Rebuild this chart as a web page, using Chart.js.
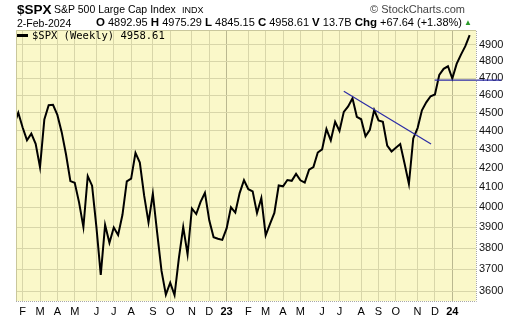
<!DOCTYPE html>
<html><head><meta charset="utf-8">
<script src="https://cdn.jsdelivr.net/npm/chart.js@4.4.1/dist/chart.umd.min.js"></script>
<style>
html,body{margin:0;padding:0;background:#fff;}
#wrap{position:relative;width:520px;height:318px;overflow:hidden;font-family:"Liberation Sans",Arial,sans-serif;}
#c{position:absolute;left:0;top:0;}
.t{position:absolute;white-space:nowrap;color:#000;line-height:1;}
#row2{position:absolute;left:96px;width:366px;top:17px;display:flex;justify-content:space-between;align-items:baseline;white-space:nowrap;line-height:1;font-size:11px;}
#row2 b{font-size:11.5px;margin-right:3px;}
</style></head><body>
<div id="wrap">
<canvas id="c" width="520" height="318"></canvas>
<div class="t" style="left:17px;top:2.5px;font-size:13.5px;font-weight:bold;">$SPX</div>
<div class="t" style="left:54px;top:4px;font-size:10.5px;">S&amp;P 500 Large Cap Index</div>
<div class="t" style="left:182px;top:5.5px;font-size:9px;">INDX</div>
<div class="t" style="right:55px;top:4px;font-size:11px;color:#444;">&copy; StockCharts.com</div>
<div class="t" style="left:17px;top:18px;font-size:10.5px;">2-Feb-2024</div>
<div id="row2">
<span><b>O</b>4892.95</span>
<span><b>H</b>4975.29</span>
<span><b>L</b>4845.15</span>
<span><b>C</b>4958.61</span>
<span><b>V</b>13.7B</span>
<span><b>Chg</b>+67.64 (+1.38%)</span>
</div>
<div class="t" style="left:464px;top:19px;font-size:8px;color:#2a9a2a;">&#9650;</div>
<div style="position:absolute;left:17px;top:34px;width:11px;height:3px;background:#000;"></div>
<div class="t" style="left:32px;top:30px;font-size:10.5px;font-family:'DejaVu Sans Mono',monospace;">$SPX (Weekly) 4958.61</div>
</div>
<script>
const weeks = [
"2022-01-28","2022-02-04","2022-02-11","2022-02-18","2022-02-25","2022-03-04","2022-03-11","2022-03-18","2022-03-25",
"2022-04-01","2022-04-08","2022-04-14","2022-04-22","2022-04-29","2022-05-06","2022-05-13","2022-05-20","2022-05-27",
"2022-06-03","2022-06-10","2022-06-17","2022-06-24","2022-07-01","2022-07-08","2022-07-15","2022-07-22","2022-07-29",
"2022-08-05","2022-08-12","2022-08-19","2022-08-26","2022-09-02","2022-09-09","2022-09-16","2022-09-23","2022-09-30",
"2022-10-07","2022-10-14","2022-10-21","2022-10-28","2022-11-04","2022-11-11","2022-11-18","2022-11-25",
"2022-12-02","2022-12-09","2022-12-16","2022-12-23","2022-12-30",
"2023-01-06","2023-01-13","2023-01-20","2023-01-27","2023-02-03","2023-02-10","2023-02-17","2023-02-24",
"2023-03-03","2023-03-10","2023-03-17","2023-03-24","2023-03-31","2023-04-06","2023-04-14","2023-04-21","2023-04-28",
"2023-05-05","2023-05-12","2023-05-19","2023-05-26","2023-06-02","2023-06-09","2023-06-16","2023-06-23","2023-06-30",
"2023-07-07","2023-07-14","2023-07-21","2023-07-28","2023-08-04","2023-08-11","2023-08-18","2023-08-25",
"2023-09-01","2023-09-08","2023-09-15","2023-09-22","2023-09-29","2023-10-06","2023-10-13","2023-10-20","2023-10-27",
"2023-11-03","2023-11-10","2023-11-17","2023-11-24","2023-12-01","2023-12-08","2023-12-15","2023-12-22","2023-12-29",
"2024-01-05","2024-01-12","2024-01-19","2024-01-26","2024-02-02"];
const spxClose = [
4431.85,4500.53,4418.64,4348.87,4384.65,4328.87,4204.31,4463.12,4543.06,
4545.86,4488.28,4392.59,4271.78,4131.93,4123.34,4023.89,3901.36,4158.24,
4108.54,3900.86,3674.84,3911.74,3825.33,3899.38,3863.16,3961.63,4130.29,
4145.19,4280.15,4228.48,4057.66,3924.26,4067.36,3873.33,3693.23,3585.62,
3639.66,3583.07,3752.75,3901.06,3770.55,3992.93,3965.34,4026.12,
4071.70,3934.38,3852.36,3844.82,3839.50,
3895.08,3999.09,3972.61,4070.56,4136.48,4090.46,4079.09,3970.04,
4045.64,3861.59,3916.64,3970.99,4109.31,4105.02,4137.64,4133.52,4169.48,
4136.25,4124.08,4191.98,4205.45,4282.37,4298.86,4409.59,4348.33,4450.38,
4398.95,4505.42,4536.34,4582.23,4478.03,4464.05,4369.71,4405.71,
4515.77,4457.49,4450.32,4320.06,4288.05,4308.50,4327.78,4224.16,4117.37,
4358.34,4415.24,4514.02,4559.34,4594.63,4604.37,4719.19,4754.63,4769.83,
4697.24,4783.83,4839.81,4890.97,4958.61];
const yTicks = [3600,3700,3800,3900,4000,4100,4200,4300,4400,4500,4600,4700,4800,4900];
const monthLetters = ["J","F","M","A","M","J","J","A","S","O","N","D"];
// trend lines drawn on the chart (week index, price)
const trendDownX = [76.0, 96.1];
const trendDownY = [4623, 4328];
const supportX = [96.95, 112.3];
const supportY = [4688, 4688];

// month gridlines: first week of each month whose Monday falls in that month
const monthTicks = [];
const seen = {};
weeks.forEach((w,i)=>{
  const [yy,mm,dd] = w.split('-').map(Number);
  const key = yy+'-'+mm;
  if(!seen[key] && dd>=5){
    seen[key]=true;
    monthTicks.push({i, label: mm===1 ? String(yy%100).padStart(2,'0') : monthLetters[mm-1], jan: mm===1});
  }
});
const tickByIdx = {};
monthTicks.forEach(t=>tickByIdx[t.i]=t);

const FAM = "'Liberation Sans', Arial, sans-serif";
const bgPlugin = {
  id:'bg',
  beforeDraw(chart){
    const {ctx, chartArea:a} = chart;
    ctx.save();
    ctx.fillStyle = '#faf8c9';
    ctx.fillRect(a.left, a.top, a.right-a.left, a.bottom-a.top);
    ctx.restore();
  },
  afterDraw(chart){
    const {ctx, chartArea:a} = chart;
    ctx.save();
    ctx.strokeStyle = '#c9c79c';
    ctx.lineWidth = 1;
    ctx.beginPath();
    ctx.moveTo(a.left+0.5, a.bottom); ctx.lineTo(a.left+0.5, a.top+0.5); ctx.lineTo(a.right, a.top+0.5);
    ctx.stroke();
    ctx.strokeStyle = '#a8a8a8';
    ctx.setLineDash([1,1]);
    ctx.beginPath();
    ctx.moveTo(a.left, a.bottom+0.5); ctx.lineTo(a.right+0.5, a.bottom+0.5); ctx.lineTo(a.right+0.5, a.top);
    ctx.stroke();
    ctx.restore();
  }
};

new Chart(document.getElementById('c'), {
  type:'line',
  data:{
    datasets:[
      {data: spxClose.map((v,i)=>({x:i,y:v})), borderColor:'#000', borderWidth:2, pointRadius:0, tension:0, clip:0, order:2},
      {data: trendDownX.map((x,i)=>({x, y:trendDownY[i]})), borderColor:'#2b2ba6', borderWidth:1.2, pointRadius:0, order:1},
      {data: supportX.map((x,i)=>({x, y:supportY[i]})), borderColor:'#2b2ba6', borderWidth:1.2, pointRadius:0, clip:false, order:1}
    ]
  },
  options:{
    responsive:false, animation:false, devicePixelRatio:1,
    layout:{padding:{left:16, top:30, right:0, bottom:0}},
    plugins:{legend:{display:false}, tooltip:{enabled:false}},
    scales:{
      x:{
        type:'linear', min:0.47, max:106.46,
        afterBuildTicks: s=>{ s.ticks = monthTicks.filter(t=>t.i>=s.min && t.i<=s.max).map(t=>({value:t.i})); },
        afterFit: s=>{ s.height = 17; },
        ticks:{
          autoSkip:false, maxRotation:0, padding:4, color:'#000',
          font: ctx=>({family:FAM, size:11, weight: (ctx.tick && tickByIdx[ctx.tick.value] && tickByIdx[ctx.tick.value].jan) ? 'bold':'normal'}),
          callback: v=> tickByIdx[v] ? tickByIdx[v].label : ''
        },
        grid:{drawTicks:false, lineWidth:1,
          color: ctx=> (ctx.tick && tickByIdx[ctx.tick.value] && tickByIdx[ctx.tick.value].jan) ? '#bab890' : '#d8d6a9'},
        border:{display:false}
      },
      y:{
        type:'logarithmic', position:'right', min:3557, max:4991,
        afterBuildTicks: s=>{ s.ticks = yTicks.map(v=>({value:v})); },
        afterFit: s=>{ s.width = 44; },
        ticks:{padding:3, color:'#111', font:{family:FAM, size:11}, callback: v=>String(v)},
        grid:{drawTicks:false, lineWidth:1, color:'#d8d6a9'},
        border:{display:false}
      }
    }
  },
  plugins:[bgPlugin]
});
</script>
</body></html>
